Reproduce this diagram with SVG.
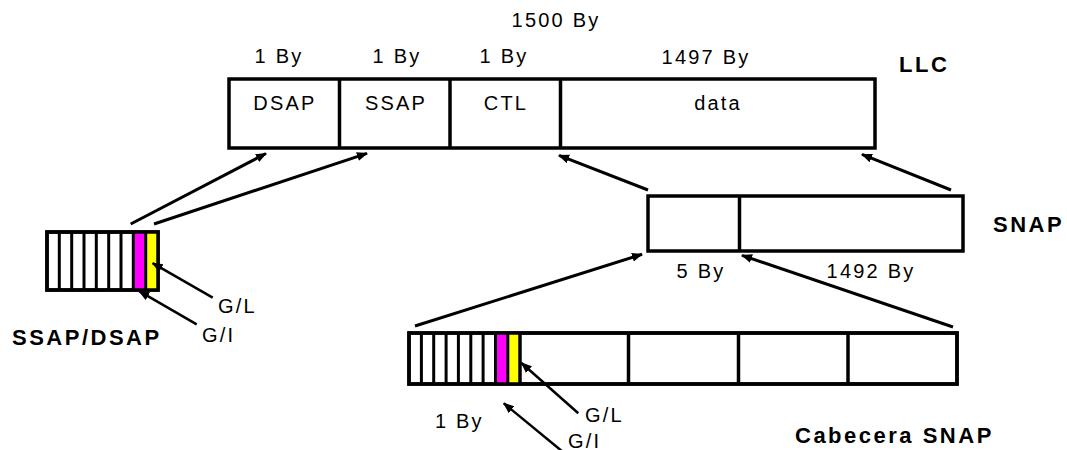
<svg xmlns="http://www.w3.org/2000/svg" width="1067" height="450" viewBox="0 0 1067 450">
<style>
.t{font-family:"Liberation Sans",Arial,sans-serif;font-size:20px;letter-spacing:2.2px;fill:#000}
.m{text-anchor:middle}
.b{font-family:"Liberation Sans",Arial,sans-serif;font-size:22px;font-weight:bold;letter-spacing:2.5px;fill:#000}
.box{fill:#fff;stroke:#000;stroke-width:3.5}
.div{stroke:#000;stroke-width:3.5}
.bit{stroke:#000;stroke-width:3}
.con{stroke:#000;stroke-width:3;fill:none;marker-end:url(#ah)}
.con2{stroke:#000;stroke-width:2.5;fill:none;marker-end:url(#ah)}
</style>
<defs>
<marker id="ah" markerUnits="userSpaceOnUse" markerWidth="14" markerHeight="12" refX="10" refY="4.5" orient="auto">
<path d="M0,0 L11,4.5 L0,9 z" fill="#000"/>
</marker>
</defs>
<rect width="1067" height="450" fill="#fff"/>

<g id="llc">
<rect class="box" x="229" y="79" width="646" height="69"/>
<line class="div" x1="339.5" y1="79" x2="339.5" y2="148"/>
<line class="div" x1="450" y1="79" x2="450" y2="148"/>
<line class="div" x1="560.5" y1="79" x2="560.5" y2="148"/>
<text class="t m" x="556" y="27">1500 By</text>
<text class="t m" x="279" y="63">1 By</text>
<text class="t m" x="397" y="63">1 By</text>
<text class="t m" x="504" y="63">1 By</text>
<text class="t m" x="706" y="64">1497 By</text>
<text class="b" x="899" y="72">LLC</text>
<text class="t m" x="285" y="110">DSAP</text>
<text class="t m" x="396" y="110">SSAP</text>
<text class="t m" x="506" y="110">CTL</text>
<text class="t m" x="718" y="110">data</text>
</g>

<g id="snap">
<rect class="box" x="648" y="196" width="315" height="55"/>
<line class="div" x1="739.5" y1="196" x2="739.5" y2="251"/>
<text class="b" x="993" y="232">SNAP</text>
<text class="t m" x="701" y="278">5 By</text>
<text class="t m" x="871" y="278">1492 By</text>
</g>

<g id="ssapdsap">
<rect class="box" x="47" y="232" width="111" height="58"/>
<rect x="133.3" y="232" width="12.4" height="58" fill="#ff00ff"/>
<rect x="145.7" y="232" width="12.3" height="58" fill="#ffff00"/>
<rect x="47" y="232" width="111" height="58" fill="none" stroke="#000" stroke-width="3.5"/>
<line class="bit" x1="59.3" y1="232" x2="59.3" y2="290"/>
<line class="bit" x1="71.7" y1="232" x2="71.7" y2="290"/>
<line class="bit" x1="84" y1="232" x2="84" y2="290"/>
<line class="bit" x1="96.3" y1="232" x2="96.3" y2="290"/>
<line class="bit" x1="108.7" y1="232" x2="108.7" y2="290"/>
<line class="bit" x1="121" y1="232" x2="121" y2="290"/>
<line class="bit" x1="133.3" y1="232" x2="133.3" y2="290"/>
<line class="bit" x1="145.7" y1="232" x2="145.7" y2="290"/>
<text class="b" x="12" y="345">SSAP/DSAP</text>
<text class="t" x="218" y="313">G/L</text>
<text class="t" x="202" y="342">G/I</text>
</g>

<g id="cabecera">
<rect class="box" x="409" y="333" width="548" height="51"/>
<rect x="495.5" y="333" width="12.3" height="51" fill="#ff00ff"/>
<rect x="507.8" y="333" width="12.2" height="51" fill="#ffff00"/>
<rect x="409" y="333" width="548" height="51" fill="none" stroke="#000" stroke-width="3.5"/>
<line class="bit" x1="421.4" y1="333" x2="421.4" y2="384"/>
<line class="bit" x1="433.7" y1="333" x2="433.7" y2="384"/>
<line class="bit" x1="446.1" y1="333" x2="446.1" y2="384"/>
<line class="bit" x1="458.4" y1="333" x2="458.4" y2="384"/>
<line class="bit" x1="470.8" y1="333" x2="470.8" y2="384"/>
<line class="bit" x1="483.1" y1="333" x2="483.1" y2="384"/>
<line class="bit" x1="495.5" y1="333" x2="495.5" y2="384"/>
<line class="bit" x1="507.8" y1="333" x2="507.8" y2="384"/>
<line class="div" x1="520" y1="333" x2="520" y2="384"/>
<line class="div" x1="628.5" y1="333" x2="628.5" y2="384"/>
<line class="div" x1="738.5" y1="333" x2="738.5" y2="384"/>
<line class="div" x1="848" y1="333" x2="848" y2="384"/>
<text class="t" x="435" y="428">1 By</text>
<text class="t" x="585" y="422">G/L</text>
<text class="t" x="568" y="448">G/I</text>
<text class="b" x="795" y="443">Cabecera SNAP</text>
</g>

<g id="connectors">
<line class="con" x1="130.7" y1="224" x2="266" y2="153.5"/>
<line class="con" x1="154" y1="224" x2="367" y2="153.4"/>
<line class="con" x1="648" y1="190" x2="559" y2="155.4"/>
<line class="con" x1="951" y1="190" x2="862" y2="154.4"/>
<line class="con" x1="415" y1="326" x2="642" y2="254.3"/>
<line class="con" x1="953" y1="327" x2="742" y2="255.4"/>
<line class="con2" x1="212.7" y1="297.7" x2="152.6" y2="263.2"/>
<line class="con2" x1="196.7" y1="324.3" x2="139.2" y2="291.2"/>
<line class="con2" x1="578.3" y1="413.3" x2="521.5" y2="363"/>
<line class="con2" x1="563" y1="452" x2="503.8" y2="403.3"/>
</g>
</svg>
